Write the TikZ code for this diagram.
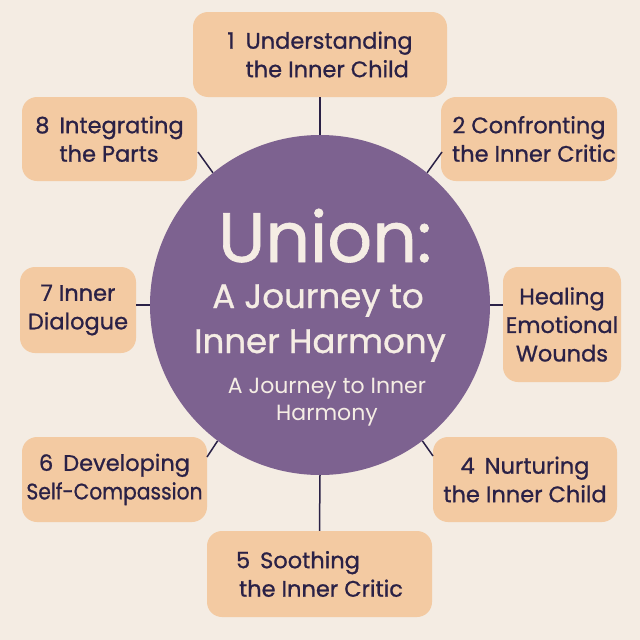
\documentclass[tikz,border=0pt]{standalone}
\usepackage{fontspec}
\usepackage{graphicx}
\setmainfont{Poppins}
\newfontfamily\medfont{Poppins}[FakeBold=0.9]
\definecolor{bgc}{HTML}{F4ECE3}
\definecolor{boxc}{HTML}{F3CAA2}
\definecolor{circc}{HTML}{7D6290}
\definecolor{txtc}{HTML}{2A2146}
\definecolor{lightc}{HTML}{F5EDE4}
\begin{document}
\begin{tikzpicture}[x=1pt,y=-1pt,
  box/.style={rectangle, rounded corners=15pt, fill=boxc, text=txtc, inner sep=0pt,
    font=\medfont\fontsize{22.5}{28.5}\selectfont},
  conn/.style={draw=txtc, line width=1.5pt},
  big/.style={text=lightc, anchor=base, inner sep=0pt}]
\fill[bgc] (0,0) rectangle (640,640);
\useasboundingbox (0,0) rectangle (640,640);
\node[circle, fill=circc, minimum size=340pt, inner sep=0pt] (c) at (320,305) {};
\node[box, minimum width=254pt, minimum height=85pt, align=left] (b1) at (320,54.5)
  {1\hspace{11pt}Understanding\\\hphantom{1\hspace{11pt}}the Inner Child};
\node[box, minimum width=176pt, minimum height=84pt, align=center] (b2) at (529,139)
  {2 Confronting\\\hspace{10pt}the Inner Critic};
\node[box, minimum width=118pt, minimum height=115pt, align=center] (b3) at (562,324.5)
  {Healing\\Emotional\\Wounds};
\node[box, minimum width=184pt, minimum height=85pt, align=center] (b4) at (525,479.5)
  {4\hspace{10pt}Nurturing\\the Inner Child};
\node[box, minimum width=225pt, minimum height=86pt, align=left] (b5) at (319.5,574)
  {5\hspace{10pt}Soothing\\\hspace{3pt}the Inner Critic};
\node[box, minimum width=185pt, minimum height=85pt, align=center] (b6) at (114.5,479.5)
  {6\hspace{10pt}Developing\\\scalebox{0.9}[1]{Self-Compassion}};
\node[box, minimum width=116pt, minimum height=86pt, align=center] (b7) at (78,310)
  {7 Inner\\Dialogue};
\node[box, minimum width=175pt, minimum height=84pt, align=left] (b8) at (109.5,139)
  {8\hspace{10pt}Integrating\\\hphantom{8\hspace{10pt}}the Parts};
\coordinate (k2) at (442,152);
\coordinate (k4) at (433,456);
\coordinate (k6) at (207,457);
\coordinate (k8) at (198,152);
\draw[conn] (b1.south) -- (c.north);
\draw[conn] (c.51) -- (k2);
\draw[conn] (c.east) -- (b3.west |- c.east);
\draw[conn] (c.307) -- (k4);
\draw[conn] (c.south) -- (b5.north);
\draw[conn] (c.233) -- (k6);
\draw[conn] (c.west) -- (b7.east |- c.west);
\draw[conn] (c.129) -- (k8);
\node[big, font=\medfont\fontsize{70}{70}\selectfont] (t1) at (325,262) {Union:};
\node[big, font=\medfont\fontsize{34}{34}\selectfont] (t2) at (318,308) {A Journey to};
\node[big, font=\medfont\fontsize{34}{34}\selectfont] (t3) at (320,353) {Inner Harmony};
\node[big, font=\fontsize{22}{22}\selectfont] (t4) at (327,393) {A Journey to Inner};
\node[big, font=\fontsize{22}{22}\selectfont] (t5) at (327,420) {Harmony};
\end{tikzpicture}
\end{document}
